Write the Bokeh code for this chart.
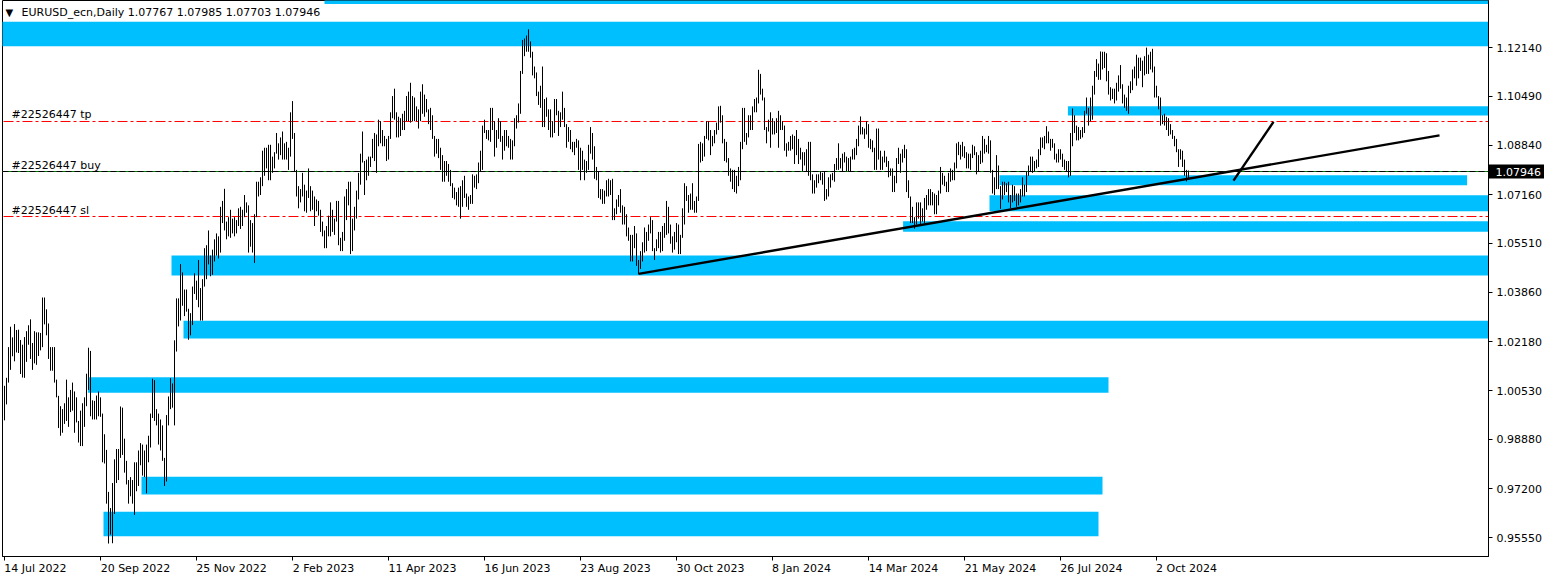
from bokeh.plotting import figure
from bokeh.models import Range1d, FixedTicker, PrintfTickFormatter, Label, ColumnDataSource
from bokeh.embed import file_html
from bokeh.resources import INLINE
from bokeh.core.properties import value

# ---------------- data (EURUSD daily, prices in 1/10000) ----------------
HIGH_PIPS = [
    10069, 10096,
    10200, 10269, 10233, 10278, 10258,
    10259, 10224, 10208, 10234, 10254,
    10274, 10294, 10214, 10254, 10250,
    10250, 10248, 10368, 10368, 10328,
    10280, 10200, 10200, 10200, 10090,
    10035, 10000, 9990, 10010, 10090,
    10030, 10055, 10080, 10050, 10030,
    9950, 9985, 10010, 10030, 10110,
    10198, 10187, 10020, 10018, 10036,
    10050, 10030, 9975, 9905, 9852,
    9710, 9655, 9740, 9820, 9855,
    9855, 9999, 9995, 9890, 9815,
    9750, 9760, 9750, 9810, 9810,
    9850, 9875, 9870, 9850, 9870,
    9900, 9975, 10093, 10088, 9990,
    9975, 9955, 9935, 9825, 9970,
    10033, 10095, 10077, 10223, 10365,
    10365, 10481, 10453, 10395, 10395,
    10330, 10315, 10405, 10450, 10425,
    10495, 10400, 10430, 10535, 10545,
    10595, 10510, 10530, 10565, 10585,
    10575, 10675, 10695, 10736, 10625,
    10640, 10665, 10635, 10640, 10630,
    10670, 10675, 10665, 10715,
    10690, 10680, 10630, 10620, 10650,
    10760, 10760, 10775, 10865, 10875,
    10875, 10885, 10885, 10845, 10860,
    10925, 10890, 10910, 10930, 10890,
    10895, 10875, 10995, 11033, 10925,
    10800, 10745, 10735, 10790, 10750,
    10730, 10805, 10745, 10730, 10710,
    10700, 10695, 10665, 10625, 10595,
    10610, 10645, 10690, 10665, 10635,
    10695, 10695, 10570, 10590, 10710,
    10735, 10760, 10760, 10635, 10675,
    10730, 10790, 10855, 10930, 10830,
    10835, 10845, 10845, 10905, 10925,
    10920, 10970, 10965, 10935, 10915,
    10905, 10915, 10995, 11050, 11075,
    10995, 10980, 10975, 10990, 11000,
    11050, 11065, 11095, 11050, 11045,
    11015, 11005, 11065, 11090, 11055,
    11040, 11005, 11010, 10985, 10915,
    10905, 10905, 10875, 10850, 10830,
    10830, 10820, 10800, 10755, 10740,
    10725, 10740, 10745, 10765, 10780,
    10720, 10710, 10715, 10785, 10780,
    10785, 10825, 10865, 10950, 10970,
    10935, 10935, 11010, 11010, 10965,
    10935, 10975, 10965, 10915, 10935,
    10935, 10915, 10905, 10900, 10975,
    10985, 11025, 11135, 11240, 11245,
    11255, 11276, 11235, 11200, 11150,
    11130, 11065, 11085, 11150, 11040,
    11045, 11005, 11005, 10965, 11040,
    11040, 11000, 10995, 11065, 11010,
    10955, 10945, 10935, 10895, 10895,
    10905, 10900, 10875, 10865, 10835,
    10830, 10885, 10945, 10925, 10880,
    10810, 10795, 10735, 10735, 10730,
    10765, 10770, 10765, 10770, 10670,
    10700, 10715, 10735, 10680, 10675,
    10650, 10605, 10580, 10580, 10610,
    10585, 10495, 10525, 10555, 10605,
    10590, 10615, 10640, 10630, 10535,
    10565, 10590, 10590, 10610, 10620,
    10695, 10675, 10615, 10575, 10590,
    10620, 10615, 10580, 10670, 10755,
    10745, 10715, 10720, 10755, 10695,
    10710, 10888, 10895, 10890, 10915,
    10965, 10965, 10935, 10915, 10935,
    10960, 11015, 11017, 10985, 10905,
    10895, 10840, 10805, 10800, 10800,
    10780, 10810, 10895, 11010, 11010,
    10925, 10985, 10985, 11015, 11040,
    11045, 11139, 11125, 11075,
    11045, 10945, 10970, 10995,
    10975, 10965, 10975, 11000, 10985,
    10965, 10950, 10890, 10895, 10915,
    10920, 10915, 10935, 10905, 10875,
    10860, 10860, 10870, 10895, 10895,
    10785, 10765, 10785, 10785, 10795,
    10790, 10795, 10735, 10775, 10785,
    10790, 10820, 10840, 10890, 10840,
    10855, 10860, 10845, 10840, 10845,
    10870, 10875, 10905, 10950, 10981,
    10945, 10940, 10965, 10955, 10905,
    10900, 10875, 10940, 10940, 10865,
    10845, 10865, 10845, 10830, 10805,
    10805, 10780, 10840, 10875, 10855,
    10870, 10885, 10870, 10765, 10710,
    10675, 10640, 10690, 10690, 10690,
    10670, 10705, 10715, 10735, 10735,
    10725, 10720, 10715, 10730, 10810,
    10790, 10780, 10760, 10790, 10805,
    10800, 10825, 10890, 10895, 10885,
    10895, 10880, 10860, 10855, 10855,
    10885, 10880, 10860, 10850, 10865,
    10915, 10905, 10885, 10915, 10900,
    10800, 10775, 10850, 10815, 10745,
    10760, 10760, 10755, 10760, 10715,
    10750, 10745, 10720, 10720, 10735,
    10775, 10750, 10795, 10815, 10845,
    10845, 10830, 10835, 10870, 10910,
    10910, 10915, 10948, 10930, 10905,
    10905, 10890, 10855, 10870, 10870,
    10855, 10835, 10830, 10830, 10925,
    11008, 10985, 10950, 10945, 10935,
    10945, 11000, 11045, 11010, 11045,
    11085, 11135, 11175, 11160, 11201,
    11200, 11200, 11195, 11135, 11080,
    11075, 11075, 11095, 11120, 11155,
    11090, 11055, 11045, 11085, 11100,
    11140, 11150, 11190, 11180, 11180,
    11170, 11185, 11214, 11190, 11200,
    11210, 11150, 11085, 11050, 11045,
    10985, 10990, 10980, 10975, 10955,
    10935, 10915, 10905, 10870, 10870,
    10865, 10835, 10800, 10798,
]

LOW_PIPS = [
    9952, 10006,
    10080, 10123, 10169, 10152, 10182,
    10180, 10109, 10097, 10096, 10150,
    10208, 10160, 10123, 10145, 10140,
    10170, 10189, 10200, 10277, 10240,
    10160, 10120, 10120, 10080, 10030,
    9926, 9900, 9910, 9940, 9950,
    9930, 9980, 9985, 9910, 9945,
    9877, 9865, 9865, 9930, 10000,
    10055, 9966, 9955, 9955, 9955,
    9966, 9964, 9810, 9806, 9670,
    9535, 9565, 9536, 9635, 9740,
    9750, 9825, 9835, 9775, 9735,
    9670, 9695, 9670, 9632, 9712,
    9730, 9800, 9765, 9760, 9705,
    9810, 9860, 9960, 9950, 9935,
    9870, 9850, 9815, 9730, 9745,
    9935, 9990, 9995, 9935, 10185,
    10270, 10290, 10340, 10305, 10320,
    10225, 10240, 10275, 10380, 10360,
    10335, 10290, 10290, 10405, 10430,
    10480, 10440, 10445, 10490, 10510,
    10500, 10520, 10620, 10595, 10565,
    10575, 10570, 10585, 10575, 10585,
    10610, 10600, 10610, 10640,
    10655, 10520, 10540, 10520, 10485,
    10640, 10710, 10715, 10745, 10780,
    10805, 10765, 10765, 10790, 10805,
    10855, 10835, 10850, 10835, 10835,
    10835, 10800, 10845, 10905, 10795,
    10710, 10670, 10690, 10710, 10660,
    10655, 10705, 10660, 10665, 10610,
    10660, 10645, 10590, 10575, 10535,
    10535, 10575, 10575, 10590, 10580,
    10625, 10545, 10525, 10525, 10560,
    10630, 10680, 10515, 10525, 10595,
    10635, 10700, 10750, 10825, 10715,
    10765, 10780, 10810, 10840, 10830,
    10790, 10880, 10890, 10880, 10880,
    10830, 10835, 10905, 10975, 10970,
    10910, 10910, 10915, 10935, 10935,
    10965, 10965, 10960, 10965, 10965,
    10965, 10940, 10965, 10990, 10980,
    10995, 10955, 10935, 10905, 10845,
    10855, 10840, 10800, 10760, 10760,
    10780, 10760, 10745, 10705, 10700,
    10680, 10675, 10635, 10675, 10705,
    10675, 10665, 10685, 10685, 10740,
    10735, 10755, 10795, 10800, 10925,
    10905, 10900, 10895, 10935, 10845,
    10875, 10905, 10895, 10835, 10865,
    10880, 10875, 10835, 10835, 10880,
    10940, 10960, 10990, 11125, 11185,
    11200, 11200, 11180, 11120, 11110,
    11050, 11020, 11010, 10945, 10945,
    10980, 10935, 10910, 10910, 10925,
    10985, 10915, 10945, 10970, 10945,
    10875, 10895, 10870, 10860, 10850,
    10875, 10800, 10765, 10800, 10765,
    10790, 10800, 10855, 10835, 10770,
    10765, 10705, 10700, 10685, 10685,
    10710, 10710, 10715, 10630, 10630,
    10650, 10675, 10655, 10615, 10615,
    10575, 10560, 10490, 10490, 10535,
    10475, 10448, 10465, 10490, 10520,
    10525, 10560, 10585, 10525, 10495,
    10525, 10535, 10520, 10525, 10570,
    10580, 10585, 10550, 10520, 10530,
    10555, 10515, 10515, 10570, 10615,
    10695, 10655, 10665, 10665, 10655,
    10655, 10695, 10825, 10830, 10845,
    10905, 10900, 10850, 10880, 10890,
    10920, 10935, 10960, 10890, 10830,
    10825, 10780, 10760, 10735, 10725,
    10720, 10745, 10765, 10870, 10895,
    10885, 10910, 10935, 10935, 10995,
    10995, 11025, 11055, 11035,
    10935, 10890, 10930, 10875,
    10920, 10920, 10925, 10875, 10935,
    10935, 10865, 10845, 10865, 10865,
    10870, 10820, 10850, 10820, 10835,
    10795, 10815, 10795, 10780, 10765,
    10720, 10720, 10740, 10755, 10765,
    10750, 10695, 10700, 10710, 10740,
    10765, 10760, 10800, 10800, 10805,
    10795, 10825, 10795, 10795, 10795,
    10835, 10835, 10850, 10880, 10920,
    10920, 10905, 10920, 10875, 10870,
    10860, 10800, 10800, 10835, 10800,
    10800, 10825, 10810, 10775, 10780,
    10725, 10725, 10755, 10820, 10790,
    10825, 10840, 10725, 10705, 10620,
    10620, 10601, 10615, 10635, 10610,
    10625, 10620, 10665, 10680, 10680,
    10680, 10650, 10650, 10680, 10720,
    10750, 10745, 10725, 10725, 10760,
    10765, 10765, 10805, 10850, 10835,
    10845, 10840, 10805, 10805, 10800,
    10840, 10850, 10785, 10795, 10820,
    10825, 10855, 10860, 10855, 10790,
    10720, 10715, 10735, 10735, 10668,
    10700, 10715, 10725, 10690, 10670,
    10690, 10695, 10675, 10680, 10690,
    10710, 10710, 10725, 10780, 10795,
    10790, 10795, 10805, 10810, 10850,
    10875, 10870, 10890, 10890, 10865,
    10875, 10835, 10825, 10825, 10835,
    10810, 10800, 10795, 10775, 10780,
    10880, 10925, 10900, 10900, 10905,
    10910, 10925, 10990, 10950, 10965,
    10970, 11055, 11115, 11105, 11105,
    11140, 11145, 11100, 11055, 11035,
    11040, 11025, 11035, 11065, 11075,
    11025, 11010, 11000, 10990, 11060,
    11070, 11110, 11085, 11110, 11135,
    11080, 11120, 11125, 11125, 11140,
    11130, 11045, 11045, 11005, 10950,
    10955, 10950, 10935, 10915, 10920,
    10905, 10880, 10860, 10810, 10835,
    10810, 10780, 10761, 10770,
]

X_TICK_BARS = [0, 48, 96, 144, 192, 240, 288, 336, 384, 432, 480, 528, 576]
X_TICK_LABELS = ["14 Jul 2022", "20 Sep 2022", "25 Nov 2022", "2 Feb 2023",
                 "11 Apr 2023", "16 Jun 2023", "23 Aug 2023", "30 Oct 2023",
                 "8 Jan 2024", "14 Mar 2024", "21 May 2024", "26 Jul 2024",
                 "2 Oct 2024"]
Y_TICKS = [1.12140, 1.10490, 1.08840, 1.07160, 1.05510, 1.03860,
           1.02180, 1.00530, 0.98880, 0.97200, 0.95550]

# rectangles (zones): bar index range and price range
ZONE_LEFT = [160, -10, 531.7, 497.5, 492.5, 449.3, 83.5, 89.5, 41.7, 68.5, 49.5]
ZONE_RIGHT = [760, 760, 760, 731.3, 760, 760, 760, 760, 552, 549, 547]
ZONE_BOTTOM = [1.13620, 1.12184, 1.09838, 1.07478, 1.06598, 1.05910,
               1.04421, 1.02288, 1.00458, 0.97006, 0.95594]
ZONE_TOP = [1.14000, 1.13020, 1.10153, 1.07816, 1.07139, 1.06259,
            1.05098, 1.02897, 1.00977, 0.97615, 0.96430]

# trend lines (bar index, price)
TREND_X0 = [317.0, 614.5]
TREND_Y0 = [1.04480, 1.07637]
TREND_X1 = [717.5, 634.5]
TREND_Y1 = [1.09171, 1.09624]

ORDER_ID = "#22526447"
TP_PRICE = 1.09639
BUY_PRICE = 1.07946
SL_PRICE = 1.06422
BID_PRICE = 1.07946
SYMBOL = "EURUSD_ecn,Daily"
LAST_OHLC = [1.07767, 1.07985, 1.07703, 1.07946]

# ---------------- layout helpers ----------------
FONT = "DejaVu Sans"
FS = "11px"
PX_PER_BAR = 2.0
FRAME_W, FRAME_H = 1486, 556
X0 = -1.0
X1 = X0 + FRAME_W / PX_PER_BAR
PRICE_PER_PX = 0.00033857
BID_ROW = 171
Y1 = BID_PRICE + BID_ROW * PRICE_PER_PX
Y0 = Y1 - FRAME_H * PRICE_PER_PX

# approximate DejaVu Sans advance widths (em) to left-align date labels
_W = {" ": 0.318, "J": 0.295, "u": 0.634, "l": 0.278, "S": 0.635, "e": 0.615,
      "p": 0.635, "N": 0.748, "o": 0.612, "v": 0.592, "F": 0.575, "b": 0.635,
      "A": 0.684, "r": 0.411, "n": 0.634, "g": 0.635, "O": 0.787, "c": 0.550,
      "t": 0.392, "a": 0.613, "M": 0.863, "y": 0.592}


def text_px(s, size=11.0):
    return sum(_W.get(ch, 0.636) for ch in s) * size


label_centers = [round((b + text_px(t) / 2 / PX_PER_BAR) * 2) / 2
                 for b, t in zip(X_TICK_BARS, X_TICK_LABELS)]

# ---------------- figure ----------------
p = figure(frame_width=FRAME_W, frame_height=FRAME_H,
           x_range=Range1d(X0, X1), y_range=Range1d(Y0, Y1),
           y_axis_location="right", x_axis_location="below",
           toolbar_location=None, output_backend="svg",
           min_border=0, min_border_left=2, min_border_top=0,
           min_border_right=0, min_border_bottom=0)
p.grid.visible = False
p.background_fill_color = "white"
p.border_fill_color = "white"
p.outline_line_color = "black"
p.outline_line_width = 1

yax = p.yaxis[0]
yax.ticker = FixedTicker(ticks=Y_TICKS)
yax.formatter = PrintfTickFormatter(format="%.5f")
yax.major_tick_out = 4
yax.major_tick_in = 0
yax.minor_tick_out = 0
yax.minor_tick_in = 0
yax.major_label_standoff = 4
yax.major_label_text_font = FONT
yax.major_label_text_font_size = FS
yax.major_label_text_color = "black"
yax.axis_line_color = "black"
yax.major_tick_line_color = "black"

# x axis: tick marks at the labelled bars (minor ticks), date text left-aligned
xax = p.xaxis[0]
xax.ticker = FixedTicker(ticks=label_centers, minor_ticks=X_TICK_BARS)
xax.major_label_overrides = {c: t for c, t in zip(label_centers, X_TICK_LABELS)}
xax.major_tick_out = 0
xax.major_tick_in = 0
xax.minor_tick_out = 4
xax.minor_tick_in = 0
xax.minor_tick_line_color = "black"
xax.major_label_standoff = 1
xax.major_label_text_font = FONT
xax.major_label_text_font_size = FS
xax.major_label_text_color = "black"
xax.axis_line_color = "black"

# zones
p.quad(left=ZONE_LEFT, right=ZONE_RIGHT, bottom=ZONE_BOTTOM, top=ZONE_TOP,
       fill_color="#00BFFF", line_color=None)

# order lines
DASHDOT = "10 3 3 3"
p.segment(x0=[-10], x1=[760], y0=[TP_PRICE], y1=[TP_PRICE],
          line_color="#FF0000", line_width=1, line_dash=DASHDOT)
p.segment(x0=[-10], x1=[760], y0=[SL_PRICE], y1=[SL_PRICE],
          line_color="#FF0000", line_width=1, line_dash=DASHDOT)
p.segment(x0=[-10], x1=[760], y0=[BUY_PRICE], y1=[BUY_PRICE],
          line_color="#008000", line_width=1)
p.segment(x0=[-10], x1=[760], y0=[BID_PRICE], y1=[BID_PRICE],
          line_color="black", line_width=1, line_dash="6 3")

# price bars (high-low)
src = ColumnDataSource(dict(
    x=list(range(len(HIGH_PIPS))),
    hi=[h / 10000 for h in HIGH_PIPS],
    lo=[l / 10000 for l in LOW_PIPS],
))
p.segment(x0="x", x1="x", y0="lo", y1="hi", source=src,
          line_color="black", line_width=1)

# trend lines
p.segment(x0=TREND_X0, y0=TREND_Y0, x1=TREND_X1, y1=TREND_Y1,
          line_color="black", line_width=2.4)

# order labels
for txt, pr in [(ORDER_ID + " tp", TP_PRICE), (ORDER_ID + " buy", BUY_PRICE),
                (ORDER_ID + " sl", SL_PRICE)]:
    p.add_layout(Label(x=3.5, y=pr, text=txt, text_font=FONT, text_font_size=FS,
                       text_color="#000000", text_baseline="bottom",
                       text_align="left"))

# chart title inside the frame
p.add_layout(Label(x=3, y=FRAME_H - 6, x_units="screen", y_units="screen",
                   text="\u25BC", text_font=FONT, text_font_size="10px",
                   text_color="black", text_baseline="top"))
p.add_layout(Label(x=19, y=FRAME_H - 5, x_units="screen", y_units="screen",
                   text=SYMBOL + "  " + " ".join("%.5f" % v for v in LAST_OHLC),
                   text_font=FONT, text_font_size=FS, text_color="black",
                   text_baseline="top"))

# current bid price box on the price scale (drawn above the axis)
box_h = 7 * PRICE_PER_PX
p.quad(left=[X1 - 0.25], right=[X1 + 28.5],
       bottom=[BID_PRICE - box_h], top=[BID_PRICE + box_h],
       fill_color="black", line_color=None, level="overlay")
p.text(x=[X1 - 0.5], y=[BID_PRICE], text=["%.5f" % BID_PRICE],
       x_offset=8, text_font=value(FONT), text_font_size=FS,
       text_color="white", text_baseline="middle", text_align="left",
       level="overlay")

open("out.html", "w").write(file_html(p, INLINE))
